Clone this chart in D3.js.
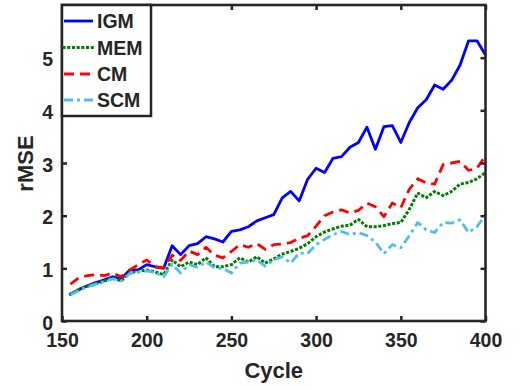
<!DOCTYPE html>
<html>
<head>
<meta charset="utf-8">
<script src="https://cdn.jsdelivr.net/npm/d3@7"></script>
<style>
html,body{margin:0;padding:0;background:#fff;}
svg{display:block;}
text{font-family:"Liberation Sans",Arial,sans-serif;font-weight:bold;fill:#262626;}
</style>
</head>
<body>
<svg id="chart" width="519" height="390"></svg>
<script>
const cycles = d3.range(155, 401, 5);
const igm = [0.51,0.60,0.67,0.73,0.78,0.84,0.80,0.97,0.97,1.07,1.03,1.00,1.43,1.26,1.43,1.47,1.60,1.56,1.50,1.70,1.73,1.79,1.90,1.96,2.02,2.34,2.46,2.28,2.69,2.90,2.82,3.09,3.12,3.30,3.39,3.68,3.26,3.69,3.71,3.39,3.77,4.05,4.20,4.48,4.40,4.57,4.86,5.32,5.32,5.05];
const mem = [0.51,0.59,0.66,0.71,0.76,0.82,0.76,0.92,0.94,0.97,0.93,0.88,1.16,1.03,1.12,1.07,1.20,1.03,1.03,1.07,1.20,1.12,1.22,1.10,1.18,1.27,1.32,1.38,1.47,1.60,1.69,1.75,1.80,1.82,1.93,1.79,1.79,1.81,1.85,1.87,2.12,2.43,2.34,2.46,2.38,2.46,2.60,2.63,2.70,2.82];
const cm = [0.70,0.82,0.86,0.88,0.86,0.91,0.84,0.97,1.07,1.16,1.03,1.01,1.25,1.15,1.33,1.26,1.40,1.25,1.20,1.32,1.45,1.40,1.47,1.36,1.45,1.46,1.49,1.57,1.62,1.80,2.00,2.07,2.11,2.05,2.10,2.24,2.17,1.98,2.24,2.15,2.50,2.70,2.62,2.60,2.97,3.00,3.03,2.86,2.90,3.14];
const scm = [0.50,0.58,0.65,0.70,0.75,0.80,0.76,0.90,0.93,0.95,0.92,0.84,1.08,0.91,1.07,1.02,1.12,1.01,1.00,0.91,1.10,1.12,1.16,1.04,1.16,1.22,1.10,1.29,1.28,1.45,1.55,1.64,1.70,1.64,1.68,1.62,1.50,1.28,1.45,1.39,1.62,1.87,1.73,1.68,1.87,1.86,1.92,1.68,1.79,2.02];
const seriesNames = ["IGM","MEM","CM","SCM"];
const xTicks = [150,200,250,300,350,400];
const yTicks = [0,1,2,3,4,5];

const styles = {
  IGM:{color:"#0000ff", dash:null, width:2.8, cap:"butt"},
  MEM:{color:"#008000", dash:"0.1,4.6", width:3, cap:"square"},
  CM:{color:"#ff0000", dash:"10,6", width:2.8, cap:"butt"},
  SCM:{color:"#4dbeee", dash:"9,4,3,4", width:2.8, cap:"butt"}
};
const dataMap = {IGM:igm, MEM:mem, CM:cm, SCM:scm};

const svg = d3.select("#chart");
const L = 62, R = 485.5, T = 5, B = 321;
const x = d3.scaleLinear().domain([150,400]).range([L,R]);
const y = d3.scaleLinear().domain([0,6]).range([B,T]);
const axisColor = "#262626";

// lines
const line = d3.line().x((d,i)=>x(cycles[i])).y(d=>y(d));
const order = ["SCM","MEM","CM","IGM"];
seriesNames.forEach(name=>{
  const s = styles[name];
  svg.append("path").datum(dataMap[name])
    .attr("d", line)
    .attr("fill","none")
    .attr("stroke", s.color)
    .attr("stroke-width", s.width)
    .attr("stroke-linecap", s.cap)
    .attr("stroke-linejoin","round")
    .attr("stroke-dasharray", s.dash);
});

// axes
const gx = svg.append("g").attr("transform",`translate(0,${B})`)
  .call(d3.axisBottom(x).tickValues(xTicks).tickSize(-5).tickPadding(12).tickFormat(d3.format("d")));
const gxt = svg.append("g").attr("transform",`translate(0,${T})`)
  .call(d3.axisTop(x).tickValues(xTicks).tickSize(-5).tickFormat(""));
const gy = svg.append("g").attr("transform",`translate(${L},0)`)
  .call(d3.axisLeft(y).tickValues(yTicks).tickSize(-5).tickPadding(9).tickFormat(d3.format("d")));
const gyr = svg.append("g").attr("transform",`translate(${R},0)`)
  .call(d3.axisRight(y).tickValues(yTicks).tickSize(-5).tickFormat(""));
[gx,gxt,gy,gyr].forEach(g=>{
  g.select(".domain").remove();
  g.selectAll(".tick line").attr("stroke",axisColor).attr("stroke-width",2.5);
  g.selectAll("text").style("font-size","19.5px").attr("fill",axisColor);
});
gx.selectAll(".tick text").attr("dy","0.72em");
gy.selectAll(".tick text").attr("dy","0.42em");

svg.append("rect").attr("x",L).attr("y",T).attr("width",R-L).attr("height",B-T)
  .attr("fill","none").attr("stroke",axisColor).attr("stroke-width",2.6);

// labels
svg.append("text").attr("x",(L+R)/2).attr("y",378).attr("text-anchor","middle")
  .style("font-size","22px").text("Cycle");
svg.append("text").attr("transform","translate(33,163.5) rotate(-90)").attr("text-anchor","middle")
  .style("font-size","22px").text("rMSE");

// legend
const lg = svg.append("g");
lg.append("rect").attr("x",62).attr("y",5).attr("width",89).attr("height",111)
  .attr("fill","#fff").attr("stroke",axisColor).attr("stroke-width",2.5);
const legY = [21,47.5,74,100];
seriesNames.forEach((name,i)=>{
  const s = styles[name];
  lg.append("line").attr("x1",64).attr("x2",93).attr("y1",legY[i]).attr("y2",legY[i])
    .attr("stroke",s.color).attr("stroke-width",s.width).attr("stroke-linecap",s.cap)
    .attr("stroke-dasharray",s.dash);
  lg.append("text").attr("x",97).attr("y",legY[i]).attr("dy","0.36em")
    .style("font-size","19.5px").text(name);
});
</script>
</body>
</html>
